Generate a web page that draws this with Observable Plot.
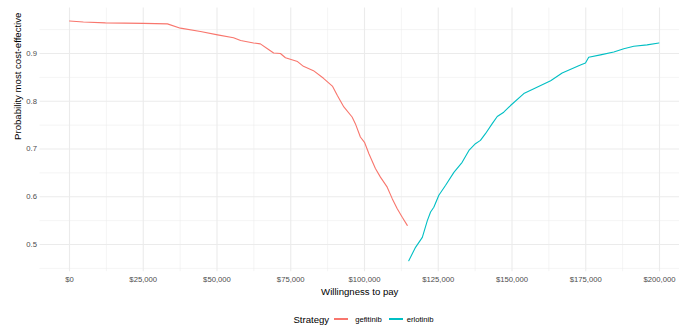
<!DOCTYPE html>
<html>
<head>
<meta charset="utf-8">
<script src="https://cdn.jsdelivr.net/npm/d3@7"></script>
<script src="https://cdn.jsdelivr.net/npm/@observablehq/plot@0.6"></script>
<style>
  html, body { margin: 0; padding: 0; background: #fff; }
  body { width: 679px; height: 326px; overflow: hidden; font-family: "Liberation Sans", Arial, Helvetica, sans-serif; }
  #legend { display: flex; justify-content: center; align-items: center; height: 32px; padding-left: 48px; box-sizing: border-box; }
  #legend .title { font-size: 9.6px; color: #000; margin-right: 5px; }
  #legend .key { width: 14px; height: 1.1px; }
  #legend .lab { font-size: 7.7px; color: #000; }
</style>
</head>
<body>
<div id="chart"></div>
<div id="legend"></div>
<script>
// Cost-effectiveness acceptability curves
const strategies = ["gefitinib", "erlotinib"];
const colors = ["#F8766D", "#00BFC4"];

const gefitinibWtp = [0, 4700, 12200, 25100, 33200, 37600, 44400, 50200, 55600, 58000, 62400, 64700, 67100, 69200, 71500, 73200, 77300, 79300, 82700, 86100, 89200, 90800, 93000, 95800, 96900, 98600, 100000, 101500, 103700, 105400, 107700, 109400, 111100, 112800, 114500];
const gefitinibProb = [0.968, 0.966, 0.964, 0.963, 0.962, 0.953, 0.946, 0.939, 0.933, 0.927, 0.922, 0.920, 0.910, 0.901, 0.900, 0.891, 0.883, 0.873, 0.864, 0.848, 0.831, 0.812, 0.788, 0.767, 0.753, 0.725, 0.714, 0.690, 0.659, 0.641, 0.620, 0.596, 0.575, 0.557, 0.540];

const erlotinibWtp = [115000, 117300, 119600, 121300, 122400, 123500, 125200, 127500, 130300, 133100, 135400, 137600, 139300, 141000, 143300, 145000, 147200, 149500, 154000, 157400, 163100, 167000, 173200, 174900, 176000, 180000, 184500, 187900, 191300, 195800, 199800];
const erlotinibProb = [0.466, 0.494, 0.515, 0.550, 0.568, 0.578, 0.603, 0.624, 0.651, 0.672, 0.697, 0.711, 0.718, 0.732, 0.753, 0.768, 0.777, 0.791, 0.816, 0.826, 0.843, 0.859, 0.876, 0.880, 0.892, 0.897, 0.903, 0.910, 0.915, 0.918, 0.922];

const xMajor = [0, 25000, 50000, 75000, 100000, 125000, 150000, 175000, 200000];
const xMinor = [12500, 37500, 62500, 87500, 112500, 137500, 162500, 187500];
const yMajor = [0.5, 0.6, 0.7, 0.8, 0.9];
const yMinor = [0.45, 0.55, 0.65, 0.75, 0.85, 0.95];

const rows = [
  ...gefitinibWtp.map((w, i) => ({wtp: w, prob: gefitinibProb[i], strategy: strategies[0]})),
  ...erlotinibWtp.map((w, i) => ({wtp: w, prob: erlotinibProb[i], strategy: strategies[1]}))
];

const font = `"Liberation Sans", Arial, Helvetica, sans-serif`;

const chart = Plot.plot({
  width: 679,
  height: 303,
  marginLeft: 39.5,
  marginRight: 0,
  marginTop: 7.6,
  marginBottom: 31.8,
  style: {fontFamily: font, background: "#fff", overflow: "visible"},
  x: {domain: [-10000, 206780]},
  y: {domain: [0.443, 0.995]},
  color: {domain: strategies, range: colors},
  marks: [
    Plot.gridX(xMinor, {stroke: "#EBEBEB", strokeOpacity: 1, strokeWidth: 0.55}),
    Plot.gridY(yMinor, {stroke: "#EBEBEB", strokeOpacity: 1, strokeWidth: 0.55}),
    Plot.gridX(xMajor, {stroke: "#EBEBEB", strokeOpacity: 1, strokeWidth: 1.1}),
    Plot.gridY(yMajor, {stroke: "#EBEBEB", strokeOpacity: 1, strokeWidth: 1.1}),
    Plot.axisX(xMajor, {tickSize: 0, tickPadding: 5, tickFormat: d3.format("$,.0f"), fontSize: 7.7, fill: "#4D4D4D", label: null}),
    Plot.axisY(yMajor, {tickSize: 0, tickPadding: 3, tickFormat: d3.format(".1f"), fontSize: 7.7, fill: "#4D4D4D", label: null}),
    Plot.lineY(rows, {x: "wtp", y: "prob", z: "strategy", stroke: "strategy", strokeWidth: 1.1}),
    Plot.text(["Willingness to pay"], {frameAnchor: "bottom", dy: 20, lineAnchor: "middle", fontSize: 9.6, fill: "#000"}),
    Plot.text(["Probability most cost-effective"], {frameAnchor: "left", dx: -22, rotate: -90, lineAnchor: "middle", fontSize: 9.6, fill: "#000"})
  ]
});
document.getElementById("chart").appendChild(chart);

// Legend beneath the plot
const legend = document.getElementById("legend");
const title = document.createElement("span");
title.className = "title";
title.textContent = "Strategy";
legend.appendChild(title);
strategies.forEach((s, i) => {
  const key = document.createElement("span");
  key.className = "key";
  key.style.background = colors[i];
  key.style.margin = i === 0 ? "0 7px 0 0" : "0 4px 0 7px";
  legend.appendChild(key);
  const lab = document.createElement("span");
  lab.className = "lab";
  lab.textContent = s;
  legend.appendChild(lab);
});
</script>
</body>
</html>
